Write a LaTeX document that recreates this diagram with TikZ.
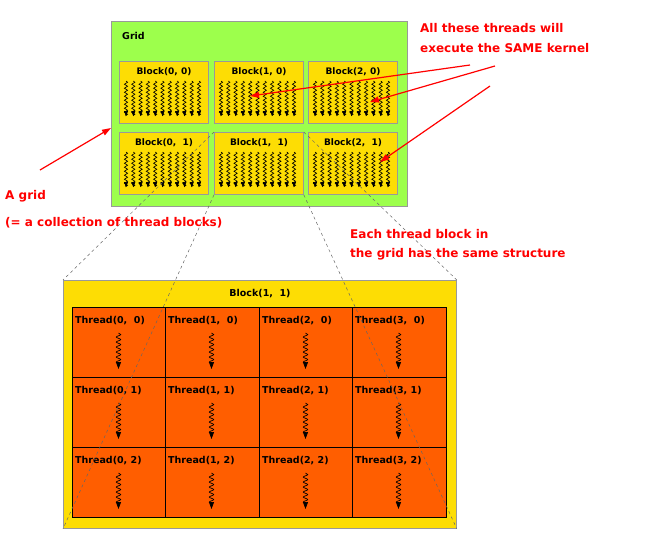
\documentclass[tikz,border=0pt]{standalone}
\usepackage{fontspec}
\setmainfont{DejaVu Sans}
\usetikzlibrary{decorations.pathmorphing,arrows.meta}
\begin{document}
\begin{tikzpicture}[x=1pt,y=-1pt,
  blk/.style={draw=black!40,fill=yellow!80!orange,line width=0.8pt},
  cell/.style={draw=black,fill=orange!60!red!90!yellow,line width=0.8pt},
  wig/.style={decorate,decoration={snake,amplitude=1.6pt,segment length=4pt},line width=0.6pt,-{Triangle[length=5pt,width=4pt]}},
  wig2/.style={decorate,decoration={snake,amplitude=2.2pt,segment length=5pt,post length=4pt},line width=0.7pt,-{Triangle[length=7pt,width=5pt]}},
  ann/.style={text=red,font=\bfseries\fontsize{12}{14}\selectfont,anchor=west,inner sep=0},
  rarr/.style={red,line width=1.2pt,-{Triangle[length=9pt,width=6pt]}},
  lbl/.style={font=\fontsize{9.5}{11}\selectfont,inner sep=0},
  dsh/.style={dashed,black!60,line width=0.5pt}]
\useasboundingbox (0,0) rectangle (652,552);
\node[draw=black!40,fill=green!55!yellow!70,minimum width=296,minimum height=185,anchor=north west,inner sep=0] (grid) at (111,21) {};
\node[lbl,font=\bfseries\fontsize{9.5}{11}\selectfont,anchor=west] (gl) at (122,36) {Grid};
\foreach \c/\x in {0/119,1/214,2/308}{
 \foreach \r/\y in {0/61,1/132}{
  \node[blk,minimum width=89,minimum height=62,anchor=north west,inner sep=0] (b\c\r) at (\x,\y) {};
  \node[lbl,font=\bfseries\fontsize{9}{11}\selectfont] at (\x+45,\y+11) {\ifnum\r=0 Block(\c, 0)\else Block(\c,\ \ 1)\fi};
  \foreach \k in {0,...,10}{
   \draw[wig] (\x+7+\k*7.3,\y+20) -- (\x+7+\k*7.3,\y+55);
  }
 }}
\node[blk,draw=black!40,minimum width=393,minimum height=248,anchor=north west,inner sep=0] (big) at (63,280) {};
\node[lbl,font=\bfseries\fontsize{9.5}{11}\selectfont] (bl) at (260,294) {Block(1,\ \ 1)};
\foreach \c/\x in {0/72,1/165,2/259,3/352}{
 \foreach \r/\y in {0/307,1/377,2/447}{
  \node[cell,minimum width=93.5,minimum height=70,anchor=north west,inner sep=0] (t\c\r) at (\x,\y) {};
  \begin{scope}
   \clip (\x,\y) rectangle (\x+92,\y+70);
   \node[lbl,font=\bfseries\fontsize{9.5}{11}\selectfont,anchor=west] at (\x+3,\y+14) {\ifnum\r=0 Thread(\c,\ \ 0)\else\ifnum\r=1 Thread(\c, 1)\else Thread(\c, 2)\fi\fi};
  \end{scope}
  \draw[wig2] (\x+46.5,\y+26) -- (\x+46.5,\y+62);
 }}
\draw[dsh] (b11.north west) -- (big.north west);
\draw[dsh] (b11.south west) -- (big.south west);
\draw[dsh] (b11.north east) -- (big.north east);
\draw[dsh] (b11.south east) -- (big.south east);
\node[ann] (a1) at (420,28) {All these threads will};
\node[ann] (a2) at (420,48) {execute the SAME kernel};
\coordinate (s1) at (470,65); \coordinate (s2) at (495,66); \coordinate (s3) at (490,86);
\draw[rarr] (s1) -- (250,96);
\draw[rarr] (s2) -- (370,102);
\draw[rarr] (s3) -- (380,162);
\node[ann] (g1) at (5,196) {A grid};
\node[ann] (g2) at (5,223) {(= a collection of thread blocks)};
\draw[rarr] (40,170) -- (grid.west |- 0,128);
\node[ann] (e1) at (350,234) {Each thread block in};
\node[ann] (e2) at (350,254) {the grid has the same structure};
\end{tikzpicture}
\end{document}
